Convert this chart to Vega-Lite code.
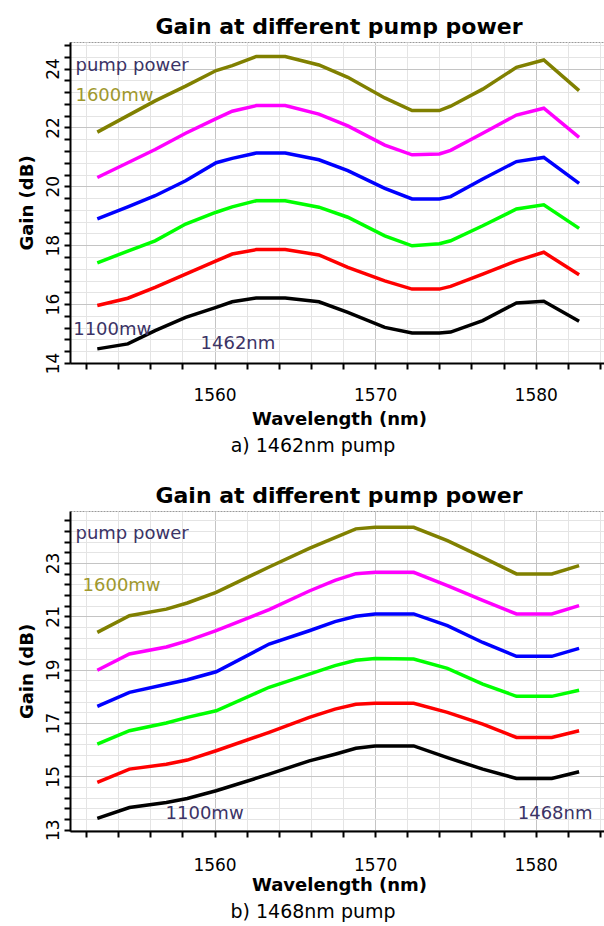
{
"$schema":"https://vega.github.io/schema/vega-lite/v6.json",
"padding":{"left":17,"top":15,"right":0,"bottom":0},
"background":"white",
"spacing":28,
"config":{
 "font":"DejaVu Sans",
 "view":{"stroke":"#999999","strokeDash":[2,1]},
 "axis":{"domainColor":"#000000","domainWidth":2,"tickColor":"#000000","tickWidth":2,"labelColor":"#000000","labelFont":"DejaVu Sans","labelFontSize":17,"titleFont":"DejaVu Sans","titleFontSize":18,"titleFontWeight":"bold","titleColor":"#000000","labelOverlap":false,"labelFlush":false,"gridWidth":1,"tickCount":200},
 "title":{"font":"DejaVu Sans","color":"#000000"}
},
"datasets":{
 "a":[
  {"w":1552.7,"1100":14.48,"1200":15.95,"1300":17.4,"1400":18.89,"1500":20.3,"1600":21.84},
  {"w":1554.6,"1100":14.65,"1200":16.2,"1300":17.8,"1400":19.3,"1500":20.8,"1600":22.4},
  {"w":1556.3,"1100":15.1,"1200":16.57,"1300":18.15,"1400":19.68,"1500":21.25,"1600":22.9},
  {"w":1558.2,"1100":15.55,"1200":17.02,"1300":18.72,"1400":20.19,"1500":21.8,"1600":23.4},
  {"w":1560.1,"1100":15.89,"1200":17.47,"1300":19.12,"1400":20.8,"1500":22.3,"1600":23.93},
  {"w":1561.1,"1100":16.08,"1200":17.7,"1300":19.3,"1400":20.95,"1500":22.55,"1600":24.1},
  {"w":1562.6,"1100":16.21,"1200":17.85,"1300":19.51,"1400":21.13,"1500":22.74,"1600":24.41},
  {"w":1564.4,"1100":16.21,"1200":17.85,"1300":19.51,"1400":21.13,"1500":22.74,"1600":24.41},
  {"w":1566.5,"1100":16.08,"1200":17.67,"1300":19.29,"1400":20.9,"1500":22.45,"1600":24.12},
  {"w":1568.3,"1100":15.72,"1200":17.25,"1300":18.95,"1400":20.53,"1500":22.05,"1600":23.7},
  {"w":1570.6,"1100":15.21,"1200":16.79,"1300":18.32,"1400":19.93,"1500":21.4,"1600":23.0},
  {"w":1572.3,"1100":15.02,"1200":16.51,"1300":17.98,"1400":19.57,"1500":21.07,"1600":22.57},
  {"w":1574.0,"1100":15.02,"1200":16.51,"1300":18.05,"1400":19.57,"1500":21.1,"1600":22.57},
  {"w":1574.7,"1100":15.05,"1200":16.6,"1300":18.15,"1400":19.65,"1500":21.22,"1600":22.72},
  {"w":1576.7,"1100":15.44,"1200":17.02,"1300":18.66,"1400":20.25,"1500":21.8,"1600":23.3},
  {"w":1578.8,"1100":16.04,"1200":17.47,"1300":19.23,"1400":20.84,"1500":22.42,"1600":24.04},
  {"w":1580.5,"1100":16.1,"1200":17.76,"1300":19.37,"1400":20.98,"1500":22.65,"1600":24.29},
  {"w":1582.7,"1100":15.42,"1200":17.0,"1300":18.57,"1400":20.1,"1500":21.66,"1600":23.25}
 ],
 "b":[
  {"w":1552.7,"1100":13.42,"1200":14.77,"1300":16.21,"1400":17.62,"1500":18.98,"1600":20.4},
  {"w":1554.7,"1100":13.83,"1200":15.27,"1300":16.71,"1400":18.15,"1500":19.59,"1600":21.02},
  {"w":1557.0,"1100":14.02,"1200":15.45,"1300":17.0,"1400":18.45,"1500":19.85,"1600":21.27},
  {"w":1558.3,"1100":14.17,"1200":15.61,"1300":17.21,"1400":18.62,"1500":20.08,"1600":21.5},
  {"w":1560.1,"1100":14.46,"1200":15.96,"1300":17.46,"1400":18.92,"1500":20.46,"1600":21.9},
  {"w":1563.4,"1100":15.08,"1200":16.65,"1300":18.34,"1400":19.96,"1500":21.25,"1600":22.85},
  {"w":1565.9,"1100":15.58,"1200":17.21,"1300":18.83,"1400":20.46,"1500":21.95,"1600":23.55},
  {"w":1567.5,"1100":15.83,"1200":17.52,"1300":19.15,"1400":20.8,"1500":22.35,"1600":23.95},
  {"w":1568.8,"1100":16.05,"1200":17.7,"1300":19.35,"1400":21.0,"1500":22.6,"1600":24.28},
  {"w":1570.0,"1100":16.14,"1200":17.74,"1300":19.42,"1400":21.09,"1500":22.65,"1600":24.34},
  {"w":1572.4,"1100":16.14,"1200":17.74,"1300":19.4,"1400":21.09,"1500":22.65,"1600":24.34},
  {"w":1574.5,"1100":15.7,"1200":17.4,"1300":19.05,"1400":20.65,"1500":22.15,"1600":23.84},
  {"w":1576.7,"1100":15.27,"1200":16.96,"1300":18.46,"1400":20.02,"1500":21.6,"1600":23.21},
  {"w":1578.8,"1100":14.92,"1200":16.46,"1300":18.0,"1400":19.5,"1500":21.09,"1600":22.59},
  {"w":1581.0,"1100":14.92,"1200":16.46,"1300":18.0,"1400":19.5,"1500":21.09,"1600":22.59},
  {"w":1582.7,"1100":15.17,"1200":16.71,"1300":18.23,"1400":19.8,"1500":21.4,"1600":22.9}
 ],
 "na":[
  {"w":1551.34,"gain":24.1,"label":"pump power"},
  {"w":1551.34,"gain":23.07,"label":"1600mw"},
  {"w":1551.2,"gain":15.12,"label":"1100mw"},
  {"w":1559.13,"gain":14.65,"label":"1462nm"}
 ],
 "nb":[
  {"w":1551.34,"gain":24.1,"label":"pump power"},
  {"w":1551.78,"gain":22.15,"label":"1600mw"},
  {"w":1556.95,"gain":13.6,"label":"1100mw"},
  {"w":1578.88,"gain":13.6,"label":"1468nm"}
 ]
},
"vconcat":[
 {
  "title":{"text":"a) 1462nm pump","orient":"bottom","fontSize":19,"fontWeight":"normal","offset":8,"frame":"bounds","anchor":"middle"},
  "vconcat":[{
   "width":538,"height":321,
   "title":{"text":"Gain at different pump power","fontSize":22,"fontWeight":"bold","frame":"group","anchor":"middle","offset":3},
   "encoding":{
    "x":{"field":"w","type":"quantitative","scale":{"domain":[1551,1584.5],"nice":false,"zero":false},
     "axis":{"title":"Wavelength (nm)","values":[1552,1554,1556,1558,1560,1562,1564,1566,1568,1570,1572,1574,1576,1578,1580,1582,1584],"format":".0f","tickCount":200,"tickMinStep":0.2,"labelOverlap":false,
      "labelExpr":"datum.value % 10 == 0 ? datum.label : ''","grid":true,
      "gridColor":{"condition":{"test":"datum.value % 10 == 0","value":"#c4c4c4"},"value":"#e4e4e4"},
      "tickSize":6,"labelPadding":18,"titlePadding":7}},
    "y":{"field":"gain","type":"quantitative","scale":{"domain":[14,24.9],"nice":false,"zero":false},
     "axis":{"title":"Gain (dB)","values":[14,14.4,14.8,15.2,15.6,16,16.4,16.8,17.2,17.6,18,18.4,18.8,19.2,19.6,20,20.4,20.8,21.2,21.6,22,22.4,22.8,23.2,23.6,24,24.4,24.8],"format":".0f","tickCount":200,"tickMinStep":0.2,"labelOverlap":false,
      "labelAngle":-90,"labelExpr":"abs(datum.value/2-round(datum.value/2))<0.01 ? datum.label : ''","grid":true,
      "gridColor":{"condition":{"test":"abs(datum.value/2-round(datum.value/2))<0.01","value":"#c4c4c4"},"value":"#e4e4e4"},
      "tickSize":6,"labelPadding":2,"titlePadding":8}}
   },
   "layer":[
    {"data":{"name":"a"},
     "transform":[{"fold":["1100","1200","1300","1400","1500","1600"],"as":["power","gain"]}],
     "mark":{"type":"line","strokeWidth":3.5,"clip":true},
     "encoding":{
      "color":{"field":"power","type":"nominal","scale":{"domain":["1100","1200","1300","1400","1500","1600"],"range":["#000000","#ff0000","#00ff00","#0000ff","#ff00ff","#808000"]},"legend":null}
     }},
    {"data":{"name":"na"},"transform":[{"filter":"datum.label != '1600mw'"}],
     "mark":{"type":"text","align":"left","baseline":"middle","fontSize":18,"color":"#3b3366"},
     "encoding":{"text":{"field":"label"}}},
    {"data":{"name":"na"},"transform":[{"filter":"datum.label == '1600mw'"}],
     "mark":{"type":"text","align":"left","baseline":"middle","fontSize":18,"color":"#a0982e"},
     "encoding":{"text":{"field":"label"}}}
   ]
  }]
 },
 {
  "title":{"text":"b) 1468nm pump","orient":"bottom","fontSize":19,"fontWeight":"normal","offset":8,"frame":"bounds","anchor":"middle"},
  "vconcat":[{
   "width":538,"height":320,
   "title":{"text":"Gain at different pump power","fontSize":22,"fontWeight":"bold","frame":"group","anchor":"middle","offset":3},
   "encoding":{
    "x":{"field":"w","type":"quantitative","scale":{"domain":[1551,1584.5],"nice":false,"zero":false},
     "axis":{"title":"Wavelength (nm)","values":[1552,1554,1556,1558,1560,1562,1564,1566,1568,1570,1572,1574,1576,1578,1580,1582,1584],"format":".0f","tickCount":200,"tickMinStep":0.2,"labelOverlap":false,
      "labelExpr":"datum.value % 10 == 0 ? datum.label : ''","grid":true,
      "gridColor":{"condition":{"test":"datum.value % 10 == 0","value":"#c4c4c4"},"value":"#e4e4e4"},
      "tickSize":6,"labelPadding":20,"titlePadding":3}},
    "y":{"field":"gain","type":"quantitative","scale":{"domain":[12.95,24.95],"nice":false,"zero":false},
     "axis":{"title":"Gain (dB)","values":[13,13.4,13.8,14.2,14.6,15,15.4,15.8,16.2,16.6,17,17.4,17.8,18.2,18.6,19,19.4,19.8,20.2,20.6,21,21.4,21.8,22.2,22.6,23,23.4,23.8,24.2,24.6],"format":".0f","tickCount":200,"tickMinStep":0.2,"labelOverlap":false,
      "labelAngle":-90,"labelExpr":"abs((datum.value-1)/2-round((datum.value-1)/2))<0.01 ? datum.label : ''","grid":true,
      "gridColor":{"condition":{"test":"abs((datum.value-1)/2-round((datum.value-1)/2))<0.01","value":"#c4c4c4"},"value":"#e4e4e4"},
      "tickSize":6,"labelPadding":2,"titlePadding":8}}
   },
   "layer":[
    {"data":{"name":"b"},
     "transform":[{"fold":["1100","1200","1300","1400","1500","1600"],"as":["power","gain"]}],
     "mark":{"type":"line","strokeWidth":3.5,"clip":true},
     "encoding":{
      "color":{"field":"power","type":"nominal","scale":{"domain":["1100","1200","1300","1400","1500","1600"],"range":["#000000","#ff0000","#00ff00","#0000ff","#ff00ff","#808000"]},"legend":null}
     }},
    {"data":{"name":"nb"},"transform":[{"filter":"datum.label != '1600mw'"}],
     "mark":{"type":"text","align":"left","baseline":"middle","fontSize":18,"color":"#3b3366"},
     "encoding":{"text":{"field":"label"}}},
    {"data":{"name":"nb"},"transform":[{"filter":"datum.label == '1600mw'"}],
     "mark":{"type":"text","align":"left","baseline":"middle","fontSize":18,"color":"#a0982e"},
     "encoding":{"text":{"field":"label"}}}
   ]
  }]
 }
]
}
